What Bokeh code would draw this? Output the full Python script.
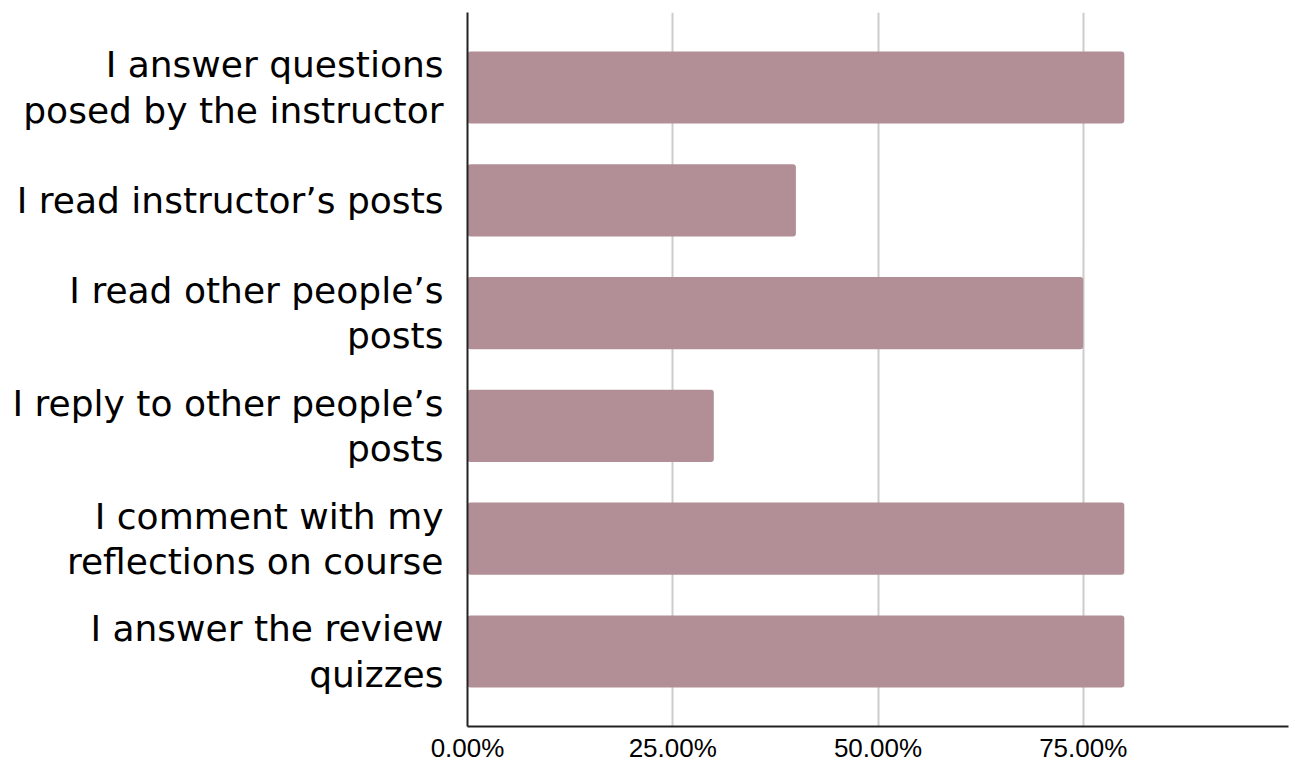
from bokeh.plotting import figure
from bokeh.models import FactorRange, FixedTicker, NumeralTickFormatter
from bokeh.embed import file_html
from bokeh.resources import INLINE

categories = [
    "I answer questions\nposed by the instructor",
    "I read instructor\u2019s posts",
    "I read other people\u2019s\nposts",
    "I reply to other people\u2019s\nposts",
    "I comment with my\nreflections on course",
    "I answer the review\nquizzes",
]
values = [0.80, 0.40, 0.75, 0.30, 0.80, 0.80]
x_ticks = [0, 0.25, 0.50, 0.75]

y_range = FactorRange(factors=categories[::-1], range_padding=0.165,
                      range_padding_units="absolute")

p = figure(width=1290, height=765, y_range=y_range, x_range=(0, 1.0),
           output_backend="svg", toolbar_location=None,
           min_border_left=467, min_border_right=2, min_border_top=12,
           min_border_bottom=0)

p.hbar(y=categories, right=values, left=0, height=0.64,
       fill_color="#b28e96", line_color=None, border_radius=3)

p.outline_line_color = None
p.ygrid.grid_line_color = None
p.xgrid.ticker = FixedTicker(ticks=[0.25, 0.5, 0.75, 1.0])
p.xgrid.grid_line_color = "#cccccc"
p.xgrid.grid_line_width = 2

p.xaxis.ticker = FixedTicker(ticks=x_ticks)
p.xaxis.formatter = NumeralTickFormatter(format="0.00%")
p.xaxis.major_tick_line_color = None
p.xaxis.minor_tick_line_color = None
p.xaxis.axis_line_color = "#222222"
p.xaxis.axis_line_width = 2
p.xaxis.major_label_text_font = "Liberation Sans"
p.xaxis.major_label_text_font_size = "26px"
p.xaxis.major_label_text_color = "#000000"
p.xaxis.major_label_standoff = 0

p.yaxis.major_tick_line_color = None
p.yaxis.minor_tick_line_color = None
p.yaxis.axis_line_color = "#222222"
p.yaxis.axis_line_width = 2
p.yaxis.major_label_text_font = "DejaVu Sans"
p.yaxis.major_label_text_font_size = "36px"
p.yaxis.major_label_text_line_height = 1.1
p.yaxis.major_label_text_color = "#000000"
p.yaxis.major_label_standoff = 18

open("out.html", "w").write(file_html(p, INLINE))
